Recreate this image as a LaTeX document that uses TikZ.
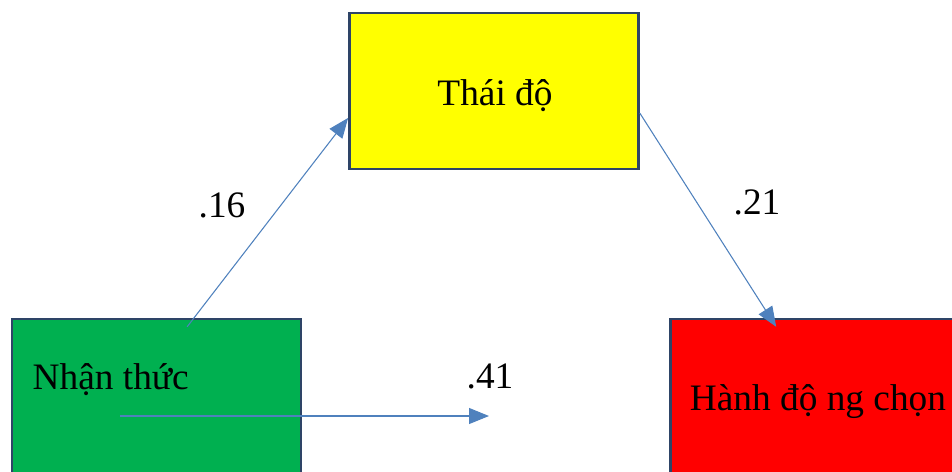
\documentclass[tikz,border=0pt]{standalone}
\usepackage{fontspec}
\setmainfont{Liberation Serif}
\usetikzlibrary{calc,arrows.meta}
\definecolor{boxline}{HTML}{2E4467}
\definecolor{pathblue}{HTML}{4F81BD}
\definecolor{grn}{HTML}{00B050}
\definecolor{ylw}{HTML}{FFFF00}
\definecolor{rd}{HTML}{FF0000}
\tikzset{
	factor/.style={draw=boxline,line width=1.8pt,minimum width=217pt,minimum height=117pt,inner sep=0pt},
	coef/.style={anchor=base,font=\fontsize{28}{33}\selectfont},
	path/.style={draw=pathblue,line width=0.8pt,-{Triangle[length=15pt,width=12pt]}}
}
\begin{document}
\begin{tikzpicture}[x=0.75pt,y=-0.75pt]
	\path[use as bounding box,clip] (0,0) rectangle (952,471);
	
	%boxes
	\node[factor,fill=ylw] (td) at (494,91) {};
	\node[factor,fill=grn] (nt) at (156.5,397) {};
	\node[factor,fill=rd] (hd) at (815,397) {};
	\node[coef] (tdText) at (495,105) {Thái độ};
	\node[coef,anchor=base west] (ntText) at (28,389) {Nhận thức};
	\node[coef] (hdText) at (818,410) {Hành độ ng chọn};
	
	%arrow ends
	\coordinate (ntTop) at ($(nt.north west)!0.605!(nt.north east)+(0,9)$);
	\coordinate (ntMid) at (120,416);
	\coordinate (ntEnd) at (489,416);
	\coordinate (tdLeft) at ($(td.north west)!0.67!(td.south west)$);
	\coordinate (tdRight) at ($(td.north east)!0.64!(td.south east)$);
	\coordinate (hdTop) at ($(hd.north west)!0.367!(hd.north east)+(0,9)$);
	
	%arrows
	\draw[path] (ntTop) -- (tdLeft);	%to attitude
	\draw[path] (tdRight) -- (hdTop);	%to action
	\draw[path] (ntMid) -- (ntEnd);		%direct
	
	\node[coef] (c16) at (222,217) {.16};
	\node[coef] (c21) at (757,214) {.21};
	\node[coef] (c41) at (490,388) {.41};
\end{tikzpicture}
\end{document}
